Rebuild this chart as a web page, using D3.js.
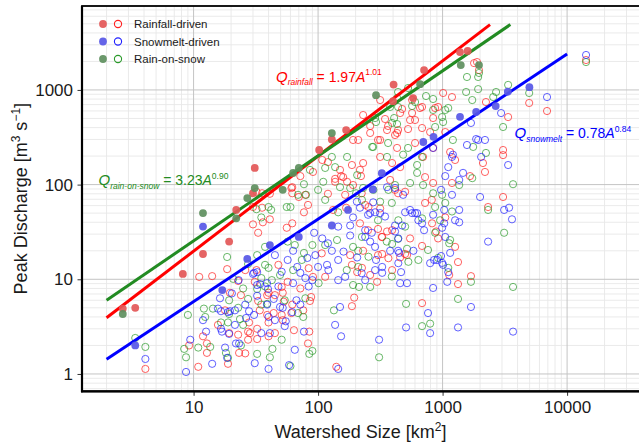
<!DOCTYPE html>
<html>
<head>
<meta charset="utf-8">
<script src="https://cdn.jsdelivr.net/npm/d3@7"></script>
<style>
body { margin: 0; background: #ffffff; }
svg { display: block; font-family: "Liberation Sans", Arial, sans-serif; }
</style>
</head>
<body>
<div class="graph"></div>
<script>

// data: [watershed size km2, peak discharge m3/s]

var rainfallOpen = [[4.1,1.13],[11.1,10.6],[14.1,10.8],[18.6,12.8],[22.8,9.6],[19.6,7.2],[17.9,4.7],[15.7,3.3],[11.9,2.5],[9.2,2.0],[12.8,2.1],[12.8,1.67],[10.9,1.19],[18.9,1.28],[22.8,2.6],[23.2,1.67],[27.9,3.5],[27.4,2.8],[27.4,2.3],[33,5.9],[30,38],[32.4,3.0],[32.4,2.34],[40,2.5],[39,4.2],[39,6.8],[51,8.3],[52,3.7],[19.3,2.7],[28.4,2.7],[64,2.9],[85,2.8],[83,2.1],[187,5.2],[140,1.19],[40,3.5],[51,4.2],[44,4.4],[61,4.4],[76,4.7],[62,5.4],[88,6.5],[86,5.9],[40,7.2],[52,7.2],[62,94],[62,81],[79,78],[120,80],[153,123],[137,115],[171,107],[77,51],[62,39],[56,35],[30,58],[31,9.4],[168,57],[181,18],[187,14.2],[91,10.6],[45,6.8],[32,84],[35.5,81],[41,80],[61,92],[70,74],[35.5,57],[41,43],[108,182],[120,173],[150,143],[159,120],[187,161],[217,143],[137,107],[191,99],[230,543],[262,351],[191,296],[315,296],[431,351],[358,377],[315,196],[393,169],[456,153],[697,196],[379,112],[415,88],[315,782],[456,570],[548,481],[659,644],[569,782],[684,396],[601,275],[1010,928],[1190,841],[871,644],[1890,1970],[1960,1620],[1790,1920],[2230,745],[3060,232],[3060,205],[3360,517],[2110,169],[2190,136],[3060,74],[2320,58],[601,481],[569,570],[684,661],[473,629],[439,377],[528,386],[415,334],[365,416],[345,493],[262,416],[303,296],[431,244],[210,296],[230,169],[839,244],[1150,221],[1260,182],[794,359],[1050,359],[839,505],[920,661],[4960,728],[6900,599],[14200,2070],[221,123],[439,81],[500,84],[839,104],[1190,104],[1660,123],[887,32],[823,39],[1050,45],[684,22.5],[500,18.5],[393,12.5],[262,11.1],[298,9.4],[1130,11.1],[1690,10.8],[1330,15.2],[1330,8.9],[684,5.6],[456,17],[518,18],[327,28],[303,18],[195,6.4],[358,32],[393,33],[239,61],[252,33],[303,34],[230,20],[327,18.5],[225,13.2],[920,27],[723,120],[36,40],[57,9.4],[114,10.6],[206,11.9],[32,12.5],
	[224,81],[254,58],[315,56],[723,64],[819,69],[1260,22],[367,16.7],[217,39],[325,28],[548,27],[33,31],[48,14.2],[84,13.1],[107,18.8],[72,8.0],[26,12.5],[24,6.8],[34,4.7],[53,5.8],[45,2.7],[26,1.65],[91,136],[72,123],[83,61],[165,78],[132,54]];

var rainOnSnowOpen = [[3.4,2.4],[4.1,1.93],[9.0,4.2],[12.4,4.0],[12.1,4.9],[14.3,4.9],[19.3,4.3],[16.6,3.5],[8.4,1.84],[8.7,1.5],[10.9,1.9],[13.6,1.93],[18.2,1.67],[19.3,6.0],[18.6,17.2],[20.8,10.1],[23.6,3.8],[24,2.0],[27.4,6.2],[27.4,14.5],[32.4,18],[32.4,7.9],[32.4,1.63],[41,1.5],[43,1.84],[39,5.5],[49.5,11.1],[60,1.21],[76,4.0],[90,1.75],[85,1.63],[134,4.7],[25,3.3],[18.9,3.5],[22.8,5.0],[54,6.0],[18.9,1.48],[77,101],[69,78],[150,94],[181,92],[42,54],[56,58],[32,55],[37.5,14.2],[40,13.2],[57,25],[65,23],[90,23],[114,23],[142,26],[145,51],[191,22],[191,8.7],[80,78],[60,58],[110,107],[114,150],[129,196],[137,153],[171,196],[206,126],[230,92],[277,250],[287,505],[358,196],[482,207],[624,161],[1960,1510],[1930,1370],[1570,1370],[1545,951],[1730,782],[1930,1020],[2690,951],[3360,1130],[3060,406],[2550,841],[839,802],[1050,614],[1010,458],[528,1047],[439,951],[431,822],[379,661],[393,448],[839,614],[528,244],[1210,296],[1760,250],[2230,216],[601,745],[569,676],[439,661],[408,505],[431,436],[292,458],[365,275],[272,250],[684,196],[991,517],[1110,644],[871,406],[736,862],[4960,928],[14200,1970],[3680,101],[697,99],[1360,99],[2320,54],[3120,31],[518,21],[393,23.6],[210,13.5],[262,8.3],[764,20.4],[1150,26],[1110,13.2],[920,16.8],[1690,9.4],[3680,8.3],[509,5.5],[684,3.2],[794,3.4],[309,1.5],[1330,6.2],[439,26.7],[415,99],[548,104],[624,133],[839,81],[991,78],[1050,64],[955,42],[684,44],[303,42],[225,69],[225,28],[210,20],[213,8.3],[1130,24],[1730,117],[40,58],[35,45],[35,10.3],[63,12.5],[77,19],
	[278,88],[315,66],[391,64],[367,88],[441,42],[500,36],[871,58],[1190,52],[871,31],[639,16],[254,17.3],[391,10.7],[356,25],[531,15.3],[37.5,22],[42.5,9.8],[74,16],[170,12.5],[101,9.1],[37.5,8.4],[25,8.0],[35,5.4],[79,6.3],[69,4.4],[51,2.3],[86,143],[100,88],[114,69],[202,81]];

var snowmeltOpen = [[4.1,1.44],[11.9,3.7],[15.7,4.9],[12.6,2.8],[16.9,2.8],[19.3,2.65],[9.4,2.3],[17.9,1.9],[18.6,1.48],[14.1,1.28],[8.7,1.05],[16.3,6.3],[16.6,4.6],[19.6,4.6],[16.6,3.0],[23.2,2.1],[21.9,2.1],[21.5,3.3],[26.4,3.9],[27.9,4.6],[32.4,8.7],[30,11.4],[34.2,8.9],[39.6,7.9],[38.9,9.1],[38.9,5.4],[52,5.0],[58.5,1.24],[41,2.7],[40,1.13],[77,2.8],[137,3.3],[153,2.5],[150,5.1],[145,1.13],[55,3.6],[45,3.7],[40,4.0],[62,4.5],[72,5.4],[44,6.2],[30.6,4.2],[18.9,4.5],[21.5,4.7],[32.4,6.7],[32.4,11.9],[63,20],[57,16],[82,16.8],[68,13.5],[72,11.7],[79,10.3],[63,9.1],[93,31],[108,27],[129,20],[191,45],[181,37],[181,29],[206,17],[145,16],[118,14.2],[100,13.5],[145,9.8],[358,94],[972,88],[1190,78],[2000,74],[1360,54],[1360,40],[3120,54],[3610,43],[2320,25],[1030,39],[839,48],[710,33],[624,50],[569,50],[1150,19],[991,14.9],[1090,9.4],[839,8.1],[518,9.1],[456,9.1],[464,11.9],[764,4.4],[509,3.1],[794,2.7],[309,2.3],[1690,5.1],[1330,3.1],[3680,2.8],[1010,14.2],[903,16],[1110,11.9],[448,19],[2950,570],[1690,448],[1860,303],[3360,161],[2040,196],[839,244],[1190,196],[1930,296],[2190,296],[1570,262],[1210,207],[1110,153],[1460,133],[3420,57],[6900,841],[14200,2340],[217,57],[252,48],[277,65],[287,51],[415,37],[473,37],[415,32],[239,28],[262,25],[327,13.5],[239,9.8],[327,11.7],[439,20],[379,20],[482,78],[415,92],[684,39],[500,51],[991,35],[1030,54],[855,16],[972,17.6],[1360,112],[1050,123],[292,16],[30.6,11.7],[120,24],[145,36],[90,9.8],[165,10.6],
	[205,66],[262,50],[315,50],[345,46],[548,54],[601,50],[639,42],[1260,42],[1050,28],[794,14.8],[441,14.8],[287,22],[224,11.6],[287,12.5],[239,33],[270,31],[441,27],[583,20],[45,18],[51,12],[95,18],[160,19.6],[121,12.5],[84,8.4],[48,8.4],[23,9.8],[20.3,7.1],[26,5.4],[49.5,5.1],[67,6.0],[54,3.2],[35,2.7],[31,1.3],[65,1.8]];

var rainfallFilled = [[2.7,4.9],[3.4,5.0],[8.2,11.4],[11.9,18.5],[19.3,25],[22,54],[30,81],[31,150],[102,232],[129,300],[168,377],[404,1140],[580,820],[710,1620],[1380,2510],[1590,2580],[400,760]];
var rainOnSnowFilled = [[2.7,4.3],[11.9,50],[22,44],[27,72],[31,92],[52,88],[63,133],[70,150],[129,350],[292,880],[660,1150],[1400,1830],[1960,1830]];
var snowmeltFilled = [[3.4,2.0],[11.9,36],[17,7.7],[27,16.4],[41,23],[70,28],[129,37],[174,54],[275,89],[325,132],[700,282],[845,320],[1380,520],[1860,585],[2670,676],[3340,957],[4980,1070]];

// fitted lines as drawn: [A start, Q start, A end, Q end]
var fitRainfall = [2, 3.93, 2405, 4900];
var fitRainOnSnow = [2, 6.0, 3500, 4900];
var fitSnowmelt = [2, 1.43, 10000, 2390];

var seriesNames = ["Rainfall-driven", "Snowmelt-driven", "Rain-on-snow"];
var eqNames = ["rainfall", "snowmelt", "rain-on-snow"];
var eqCoef = ["1.97", "0.78", "3.23"];
var eqExp = ["1.01", "0.84", "0.90"];

var xTicks = [10, 100, 1000, 10000];
var yTicks = [1, 10, 100, 1000];

//prepare SVG

var svgWidth = 639;
var svgHeight = 444;
var pLeft = 82, pTop = 6, pRight = 639, pBottom = 391.3;

var colRed = "#ff0000", colBlue = "#0000ff", colGreen = "#228b22";

var svg = d3.select("div.graph")
	.append("svg")
	.attr("width", svgWidth)
	.attr("height", svgHeight)
	.style("background-color", "#ffffff");

var x = d3.scaleLog().domain([1.27, 37800]).range([pLeft, pRight]);
var y = d3.scaleLog().domain([0.656, 7700]).range([pBottom, pTop]);

svg.append("clipPath").attr("id", "panel")
	.append("rect").attr("x", pLeft).attr("y", pTop)
	.attr("width", pRight - pLeft).attr("height", pBottom - pTop);

function logGrid(scale) {
	var out = [];
	var dom = scale.domain();
	for (var e = -1; e <= 5; e++) {
		for (var k = 1; k <= 9; k++) {
			var v = k * Math.pow(10, e);
			if (v >= dom[0] && v <= dom[1]) out.push({v: v, major: k === 1});
		}
	}
	return out;
}

var gGrid = svg.append("g");
var gx = logGrid(x), gy = logGrid(y);

[false, true].forEach(function(maj) {
	gGrid.selectAll(null)
		.data(gx.filter(function(d) { return d.major === maj; }))
		.enter().append("line")
		.attr("x1", function(d) { return x(d.v); })
		.attr("x2", function(d) { return x(d.v); })
		.attr("y1", pTop).attr("y2", pBottom)
		.attr("stroke", maj ? "#c4c4c4" : "#e8e8e8")
		.attr("stroke-width", maj ? 1 : 0.9);
	gGrid.selectAll(null)
		.data(gy.filter(function(d) { return d.major === maj; }))
		.enter().append("line")
		.attr("y1", function(d) { return y(d.v); })
		.attr("y2", function(d) { return y(d.v); })
		.attr("x1", pLeft).attr("x2", pRight)
		.attr("stroke", maj ? "#c4c4c4" : "#e8e8e8")
		.attr("stroke-width", maj ? 1 : 0.9);
});

// open circles first, then the fitted lines, then the filled points on top
var gOpen = svg.append("g").attr("clip-path", "url(#panel)");
var gLines = svg.append("g").attr("clip-path", "url(#panel)");
var gFilled = svg.append("g").attr("clip-path", "url(#panel)");

function openPoints(data, color) {
	gOpen.selectAll(null)
		.data(data)
		.enter().append("circle")
		.attr("cx", function(d) { return x(d[0]); })
		.attr("cy", function(d) { return y(d[1]); })
		.attr("r", 3.6)
		.attr("fill", "none")
		.attr("stroke", color)
		.attr("stroke-opacity", 0.7)
		.attr("stroke-width", 1);
}

openPoints(rainfallOpen, "#ff2020");
openPoints(rainOnSnowOpen, "#2a9a2a");
openPoints(snowmeltOpen, "#2020ff");

[[fitRainfall, colRed], [fitRainOnSnow, colGreen], [fitSnowmelt, colBlue]].forEach(function(f) {
	gLines.append("line")
		.attr("x1", x(f[0][0])).attr("y1", y(f[0][1]))
		.attr("x2", x(f[0][2])).attr("y2", y(f[0][3]))
		.attr("stroke", f[1])
		.attr("stroke-width", 3);
});

function filledPoints(data, fill) {
	gFilled.selectAll(null)
		.data(data)
		.enter().append("circle")
		.attr("cx", function(d) { return x(d[0]); })
		.attr("cy", function(d) { return y(d[1]); })
		.attr("r", 3.9)
		.attr("fill", fill)
		.attr("fill-opacity", 0.92);
}

var fillRed = "#e35757", fillBlue = "#5757e6", fillGreen = "#5e8f5e";
filledPoints(rainfallFilled, fillRed);
filledPoints(snowmeltFilled, fillBlue);
filledPoints(rainOnSnowFilled, fillGreen);

// axes

var xAxis = d3.axisBottom(x).tickValues(xTicks).tickFormat(d3.format("d")).tickSize(4.5).tickPadding(5);
var yAxis = d3.axisLeft(y).tickValues(yTicks).tickFormat(d3.format("d")).tickSize(4.5).tickPadding(4.5);

var axisX = svg.append("g").attr("transform", "translate(0," + pBottom + ")").call(xAxis);
var axisY = svg.append("g").attr("transform", "translate(" + pLeft + ",0)").call(yAxis);

[axisX, axisY].forEach(function(a) {
	a.select(".domain").remove();
	a.selectAll(".tick line").attr("stroke", "#333333").attr("stroke-width", 1);
	a.selectAll(".tick text")
		.attr("fill", "#1a1a1a")
		.style("font-size", "17px")
		.style("font-family", "'Liberation Sans', Arial, sans-serif");
});

// panel border
svg.append("rect")
	.attr("x", pLeft).attr("y", pTop)
	.attr("width", pRight - pLeft + 2).attr("height", pBottom - pTop)
	.attr("fill", "none").attr("stroke", "#000").attr("stroke-width", 1.8);
svg.append("line").attr("x1", pLeft).attr("x2", pLeft).attr("y1", pTop).attr("y2", pBottom + 1)
	.attr("stroke", "#000").attr("stroke-width", 2.2);
svg.append("line").attr("x1", pLeft - 1).attr("x2", pRight).attr("y1", pBottom).attr("y2", pBottom)
	.attr("stroke", "#000").attr("stroke-width", 2.2);

// axis titles
var xt = svg.append("text")
	.attr("x", (pLeft + pRight) / 2).attr("y", 438)
	.attr("text-anchor", "middle").attr("fill", "#1a1a1a")
	.style("font-size", "18px");
xt.append("tspan").text("Watershed Size [km");
xt.append("tspan").attr("dy", -7).style("font-size", "12px").text("2");
xt.append("tspan").attr("dy", 7).text("]");

var yt = svg.append("text")
	.attr("transform", "translate(26.5," + ((pTop + pBottom) / 2) + ") rotate(-90)")
	.attr("text-anchor", "middle").attr("fill", "#1a1a1a")
	.style("font-size", "18px");
yt.append("tspan").text("Peak Discharge [m");
yt.append("tspan").attr("dy", -7).style("font-size", "12px").text("3");
yt.append("tspan").attr("dy", 7).text(" s");
yt.append("tspan").attr("dy", -7).style("font-size", "12px").text("\u22121");
yt.append("tspan").attr("dy", 7).text("]");

// legend
var legFill = [fillRed, fillBlue, fillGreen];
var legLine = ["#ff2020", "#2020ff", "#2a9a2a"];
var legRows = [24, 41.5, 59];
var gLeg = svg.append("g");
seriesNames.forEach(function(name, i) {
	gLeg.append("circle").attr("cx", 103).attr("cy", legRows[i]).attr("r", 3.9)
		.attr("fill", legFill[i]).attr("fill-opacity", 0.92);
	gLeg.append("circle").attr("cx", 118).attr("cy", legRows[i]).attr("r", 3.6)
		.attr("fill", "none").attr("stroke", legLine[i]).attr("stroke-width", 1.1);
	gLeg.append("text").attr("x", 134).attr("y", legRows[i] + 4.2)
		.attr("fill", "#1a1a1a").style("font-size", "11.5px").text(name);
});

// equations
function drawEq(xq, yb, color, i) {
	var t = svg.append("text").attr("x", xq).attr("y", yb).attr("fill", color).style("font-size", "14px");
	t.append("tspan").style("font-style", "italic").style("font-size", "15px").text("Q");
	t.append("tspan").attr("dy", 3.5).style("font-style", "italic").style("font-size", "8.5px").text(eqNames[i]);
	t.append("tspan").attr("dy", -3.5).text(" = " + eqCoef[i]);
	t.append("tspan").style("font-style", "italic").text("A");
	t.append("tspan").attr("dy", -6.5).style("font-size", "8.5px").text(eqExp[i]);
}

drawEq(276, 81.7, colRed, 0);
drawEq(514.5, 138.3, colBlue, 1);
drawEq(98.5, 185, colGreen, 2);

</script>
</body>
</html>
